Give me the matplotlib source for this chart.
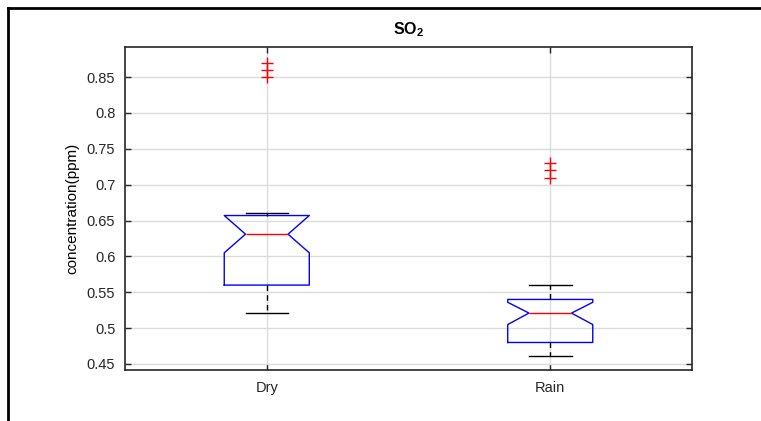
import matplotlib
matplotlib.use('Agg')
from matplotlib import pyplot as plt
from matplotlib.lines import Line2D

categories = ['Dry', 'Rain']
q1 = [0.560, 0.480]
medians = [0.631, 0.521]
q3 = [0.657, 0.540]
whislo = [0.521, 0.461]
whishi = [0.660, 0.560]
notch_lo = [0.605, 0.505]
notch_hi = [0.657, 0.536]
outliers = [[0.850, 0.860, 0.870], [0.710, 0.720, 0.730]]
yticks = [0.45, 0.5, 0.55, 0.6, 0.65, 0.7, 0.75, 0.8, 0.85]

plt.rcParams['font.family'] = ['Liberation Sans', 'DejaVu Sans']
plt.rcParams['mathtext.fontset'] = 'custom'
plt.rcParams['mathtext.rm'] = 'Liberation Sans'
plt.rcParams['mathtext.bf'] = 'Liberation Sans:bold'

stats = []
for i, name in enumerate(categories):
    stats.append(dict(label=name, q1=q1[i], med=medians[i], q3=q3[i],
                      whislo=whislo[i], whishi=whishi[i],
                      cilo=notch_lo[i], cihi=notch_hi[i], fliers=outliers[i]))

fig = plt.figure(figsize=(7.61, 4.21), dpi=100)
ax = fig.add_axes([0.1643, 0.1211, 0.745, 0.7673])

ax.bxp(stats, positions=[1, 2], widths=0.30, shownotches=True,
       boxprops=dict(color='blue', linewidth=1),
       medianprops=dict(color='red', linewidth=1),
       whiskerprops=dict(color='black', linewidth=1, linestyle=(0, (4, 3))),
       capprops=dict(color='black', linewidth=1),
       flierprops=dict(marker='+', markeredgecolor='red', markersize=8.5,
                       markeredgewidth=1, linestyle='none'))

ax.set_xlim(0.5, 2.5)
ax.set_ylim(0.4416, 0.892)
ax.set_yticks(yticks)
ax.set_yticklabels(['%g' % v for v in yticks])
ax.set_xticks([1, 2])
ax.set_xticklabels(categories)
ax.grid(True, color='#dcdcdc', linewidth=1)
ax.set_axisbelow(True)
ax.tick_params(direction='in', top=True, right=True, length=4, width=1,
               labelsize=10.5, colors='#262626')
ax.tick_params(axis='y', pad=7)
ax.tick_params(axis='x', pad=8)
for s in ax.spines.values():
    s.set_linewidth(1.2)
    s.set_color('#262626')

ax.set_title(r'SO$_{\mathbf{2}}$', fontsize=11.5, fontweight='bold', pad=9)
ax.set_ylabel('concentration(ppm)', fontsize=11, labelpad=5,
              family=['Liberation Sans Narrow', 'Liberation Sans'])

# outer frame lines
fig.add_artist(Line2D([0.0105, 1.0], [0.981, 0.981], transform=fig.transFigure,
                      color='black', linewidth=2))
fig.add_artist(Line2D([0.0105, 0.0105], [0.0, 0.981], transform=fig.transFigure,
                      color='black', linewidth=2))

fig.savefig('out.png', dpi=100, facecolor='white')
